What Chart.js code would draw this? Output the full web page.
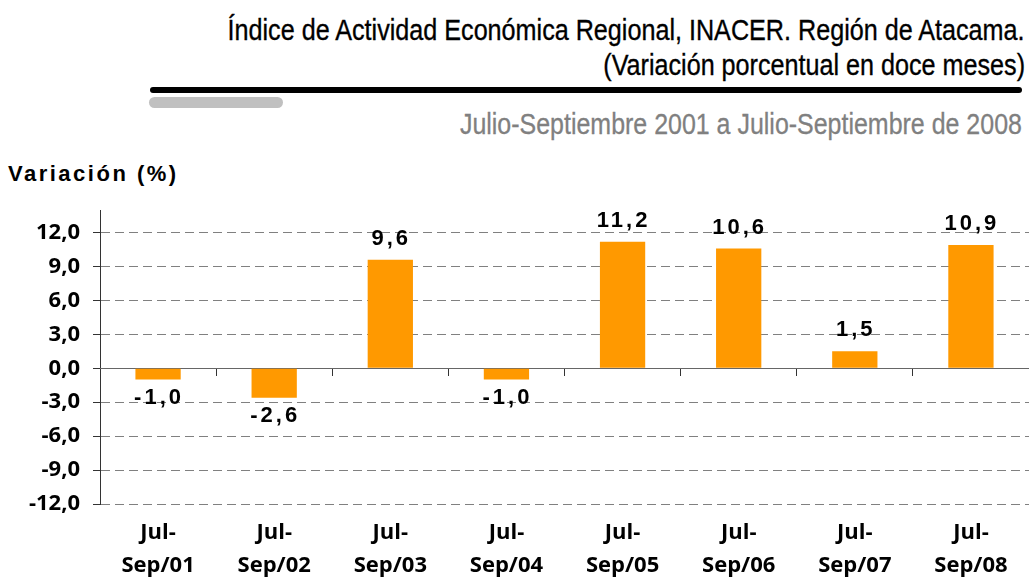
<!DOCTYPE html>
<html>
<head>
<meta charset="utf-8">
<script src="https://cdn.jsdelivr.net/npm/chart.js@4/dist/chart.umd.min.js"></script>
<style>
  html, body { margin: 0; padding: 0; background: #fff; }
  #wrap { position: relative; width: 1029px; height: 584px; overflow: hidden; }
  #chart { position: absolute; left: 0; top: 0; }
  .head { position: absolute; right: 4px; font-family: "Liberation Sans", Arial, sans-serif;
          white-space: nowrap; transform-origin: right center; }
  .title { font-size: 30px; line-height: 30px; color: #000; -webkit-text-stroke: 0.35px #000; }
  #rule { position: absolute; left: 150px; top: 87px; width: 872px; height: 6px; background: #000; border-radius: 3px; }
  #pill { position: absolute; left: 149px; top: 97px; width: 134px; height: 11px; background: #c0c0c0; border-radius: 6px; }
  #sub { right: 7px; top: 110px; font-size: 29px; line-height: 29px; color: #808080; -webkit-text-stroke: 0.3px #808080; }
  #ytitle { position: absolute; left: 8px; top: 163px; font-family: "Liberation Sans", Arial, sans-serif;
            font-weight: bold; font-size: 22px; line-height: 22px; letter-spacing: 2.5px; color: #000; }
</style>
</head>
<body>
<div id="wrap">
  <div class="head title" id="t1" style="top:15px">Índice de Actividad Económica Regional, INACER. Región de Atacama.</div>
  <div class="head title" id="t2" style="top:50px">(Variación porcentual en doce meses)</div>
  <div id="rule"></div>
  <div id="pill"></div>
  <div class="head" id="sub">Julio-Septiembre 2001 a Julio-Septiembre de 2008</div>
  <div id="ytitle">Variación (%)</div>
  <canvas id="chart" width="1029" height="584"></canvas>
</div>
<script>
const CATEGORIES = [
  ['Jul-', 'Sep/01'], ['Jul-', 'Sep/02'], ['Jul-', 'Sep/03'], ['Jul-', 'Sep/04'],
  ['Jul-', 'Sep/05'], ['Jul-', 'Sep/06'], ['Jul-', 'Sep/07'], ['Jul-', 'Sep/08']
];
const VARIATION = [-1.0, -2.6, 9.6, -1.0, 11.2, 10.6, 1.5, 10.9];
const Y_TICKS = [-12, -9, -6, -3, 0, 3, 6, 9, 12];

const fmt = v => v.toFixed(1).replace('.', ',');

// condensed look for the header: squeeze text to the width it has in the original
function squeeze(el, width) {
  const w = el.getBoundingClientRect().width;
  const k = width / w;
  el.style.transform = 'scaleX(' + k + ')';
  return k;
}
const k = squeeze(document.getElementById('t1'), 797);
document.getElementById('t2').style.transform = 'scaleX(' + k + ')';
squeeze(document.getElementById('sub'), 562);

// value labels above / below each bar
const barLabels = {
  id: 'barLabels',
  afterDatasetsDraw(chart) {
    const ctx = chart.ctx;
    const meta = chart.getDatasetMeta(0);
    ctx.save();
    ctx.font = 'bold 22px "Liberation Sans", Arial, sans-serif';
    ctx.letterSpacing = '3px';
    ctx.fillStyle = '#000';
    ctx.textAlign = 'center';
    ctx.textBaseline = 'middle';
    meta.data.forEach((bar, i) => {
      const v = VARIATION[i];
      const y = v >= 0 ? bar.y - 21 : bar.y + 18;
      ctx.fillText(fmt(v), bar.x + 1, y);
    });
    ctx.restore();
  }
};

new Chart(document.getElementById('chart'), {
  type: 'bar',
  data: {
    labels: CATEGORIES,
    datasets: [{
      data: VARIATION,
      backgroundColor: '#ff9900',
      borderWidth: 0,
      barPercentage: 0.39,
      categoryPercentage: 1
    }]
  },
  options: {
    responsive: false,
    animation: false,
    layout: { padding: { top: 210, left: 0, right: 0, bottom: 0 } },
    plugins: { legend: { display: false }, tooltip: { enabled: false } },
    scales: {
      y: {
        min: -12,
        max: 14,
        afterBuildTicks: scale => { scale.ticks = Y_TICKS.map(v => ({ value: v })); },
        afterFit: scale => { scale.width = 100; },
        border: { display: true, color: '#333', width: 1, dash: [9, 5] },
        grid: {
          color: '#808080',
          lineWidth: 1,
          tickLength: 7,
          tickColor: '#333',
          tickBorderDash: []
        },
        ticks: {
          padding: 13,
          color: '#000',
          font: { family: '"Open Sans", sans-serif', weight: 'bold', size: 22 },
          callback: v => fmt(v)
        }
      },
      x: {
        position: 'bottom',
        afterFit: scale => { scale.height = 80; },
        grid: { display: false, drawTicks: false },
        border: { display: false },
        ticks: {
          padding: 12,
          maxRotation: 0,
          autoSkip: false,
          color: '#000',
          font: { family: '"Open Sans", sans-serif', weight: 'bold', size: 22, lineHeight: 1.5 }
        }
      },
      x2: {
        type: 'category',
        axis: 'x',
        position: { y: 0 },
        offset: true,
        grid: {
          offset: true,
          drawOnChartArea: false,
          drawTicks: true,
          tickLength: 7,
          tickColor: '#333',
          tickBorderDash: []
        },
        border: { display: true, color: '#666', width: 1 },
        ticks: { display: false }
      }
    }
  },
  plugins: [barLabels]
});
</script>
</body>
</html>
